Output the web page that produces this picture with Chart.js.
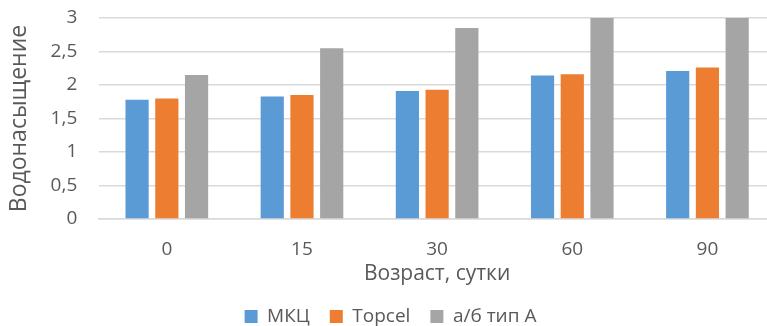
<!DOCTYPE html>
<html>
<head>
<meta charset="utf-8">
<script src="https://cdn.jsdelivr.net/npm/chart.js@4/dist/chart.umd.min.js"></script>
<style>
  html, body { margin: 0; padding: 0; background: #fff; overflow: hidden; }
  #wrap { position: relative; width: 775px; height: 326px; }
</style>
</head>
<body>
<div id="wrap"><canvas id="c"></canvas></div>
<script>
// Age of samples, days
const categories = ['0', '15', '30', '60', '90'];
// Water saturation per material
const mkcValues = [1.78, 1.83, 1.91, 2.14, 2.21];
const topcelValues = [1.80, 1.85, 1.93, 2.16, 2.26];
const asphaltValues = [2.15, 2.55, 2.85, 3.15, 3.3];
const seriesNames = ['МКЦ', 'Topcel', 'а/б тип А'];
const yTickLabels = ['0', '0,5', '1', '1,5', '2', '2,5', '3'];

const textColor = '#595959';
const gridColor = '#d9d9d9';
const fontFamily = '"Open Sans", "Noto Sans", sans-serif';

new Chart(document.getElementById('c'), {
  type: 'bar',
  data: {
    labels: categories,
    datasets: [
      { label: seriesNames[0], data: mkcValues, backgroundColor: '#5b9bd5' },
      { label: seriesNames[1], data: topcelValues, backgroundColor: '#ed7d31' },
      { label: seriesNames[2], data: asphaltValues, backgroundColor: '#a5a5a5' }
    ]
  },
  options: {
    responsive: true,
    maintainAspectRatio: false,
    animation: false,
    layout: { padding: { left: 6, right: 0, top: 18, bottom: -10 } },
    datasets: { bar: { categoryPercentage: 0.66, barPercentage: 0.78 } },
    plugins: {
      tooltip: { enabled: false },
      legend: {
        position: 'bottom',
        labels: {
          color: textColor,
          font: { family: fontFamily, size: 19 },
          boxWidth: 13,
          boxHeight: 13,
          padding: 20
        }
      }
    },
    scales: {
      x: {
        grid: { display: false, drawTicks: true, tickLength: 18 },
        border: { color: gridColor, width: 1.5 },
        ticks: { color: textColor, font: { family: fontFamily, size: 19 }, padding: 1 },
        title: {
          display: true,
          text: 'Возраст, сутки',
          color: textColor,
          font: { family: fontFamily, size: 21 },
          padding: { top: 0, bottom: 0 }
        }
      },
      y: {
        min: 0,
        max: 3,
        afterBuildTicks: (axis) => {
          axis.ticks = yTickLabels.map((t) => ({ value: parseFloat(t.replace(',', '.')) }));
        },
        grid: { color: gridColor, lineWidth: 1.5, drawTicks: true, tickLength: 18, tickColor: 'rgba(0,0,0,0)' },
        border: { display: false },
        ticks: {
          color: textColor,
          font: { family: fontFamily, size: 19 },
          padding: 4,
          callback: (value, index) => yTickLabels[index]
        },
        title: {
          display: true,
          text: 'Водонасыщение',
          color: textColor,
          font: { family: fontFamily, size: 23 },
          padding: { top: 0, bottom: 13 }
        }
      }
    }
  }
});
</script>
</body>
</html>
